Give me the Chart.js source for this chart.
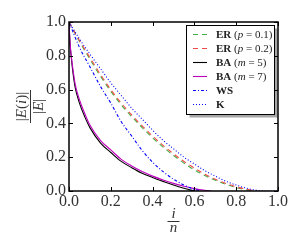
<!DOCTYPE html>
<html>
<head>
<meta charset="utf-8">
<script src="https://cdn.jsdelivr.net/npm/chart.js@4"></script>
<style>
  html, body { margin: 0; padding: 0; background: #fff; }
  #wrap { width: 301px; height: 251px; }
</style>
</head>
<body>
<div id="wrap"><canvas id="chart" width="301" height="251"></canvas></div>
<script>
// ======================
// DATA
// ======================
const erP01X = [0, 0.05, 0.1, 0.15, 0.2, 0.25, 0.3, 0.35, 0.4, 0.45, 0.5, 0.55, 0.6, 0.65, 0.7, 0.75, 0.8, 0.85, 0.88];
const erP01Y = [1, 0.885, 0.78, 0.68, 0.59, 0.51, 0.44, 0.375, 0.315, 0.26, 0.21, 0.165, 0.125, 0.092, 0.063, 0.04, 0.02, 0.006, 0];

const erP02X = [0, 0.05, 0.1, 0.15, 0.2, 0.25, 0.3, 0.35, 0.4, 0.45, 0.5, 0.55, 0.6, 0.65, 0.7, 0.75, 0.8, 0.85, 0.9];
const erP02Y = [1, 0.89, 0.79, 0.69, 0.6, 0.52, 0.45, 0.385, 0.325, 0.27, 0.22, 0.175, 0.135, 0.1, 0.07, 0.045, 0.025, 0.01, 0];

const baM5X = [0, 0.005, 0.01, 0.02, 0.03, 0.05, 0.075, 0.1, 0.15, 0.2, 0.25, 0.3, 0.35, 0.4, 0.45, 0.5, 0.55, 0.6];
const baM5Y = [1, 0.87, 0.8, 0.69, 0.61, 0.52, 0.44, 0.375, 0.285, 0.228, 0.175, 0.138, 0.105, 0.08, 0.057, 0.035, 0.016, 0];

const baM7X = [0, 0.005, 0.01, 0.02, 0.03, 0.05, 0.075, 0.1, 0.15, 0.2, 0.25, 0.3, 0.35, 0.4, 0.45, 0.5, 0.55, 0.6, 0.65, 0.68];
const baM7Y = [1, 0.88, 0.81, 0.71, 0.63, 0.54, 0.46, 0.39, 0.3, 0.243, 0.187, 0.148, 0.115, 0.088, 0.065, 0.045, 0.028, 0.014, 0.004, 0];

const wsX = [0, 0.05, 0.1, 0.15, 0.2, 0.25, 0.3, 0.35, 0.4, 0.45, 0.5, 0.55, 0.6, 0.63];
const wsY = [1, 0.85, 0.735, 0.62, 0.52, 0.41, 0.325, 0.24, 0.17, 0.115, 0.07, 0.035, 0.01, 0];

const kX = [0, 0.05, 0.1, 0.15, 0.2, 0.25, 0.3, 0.35, 0.4, 0.45, 0.5, 0.55, 0.6, 0.65, 0.7, 0.75, 0.8, 0.85, 0.9, 0.95, 1.0];
const kY = [1, 0.9, 0.81, 0.725, 0.64, 0.565, 0.49, 0.425, 0.36, 0.3, 0.25, 0.2, 0.16, 0.12, 0.088, 0.058, 0.035, 0.016, 0.004, 0, 0];

const tickValues = [0, 0.2, 0.4, 0.6, 0.8, 1.0];

// legend text pieces: [text, style]
const legendLabels = [
    [["ER", "b"], [" (", ""], ["p", "i"], [" = 0.1)", ""]],
    [["ER", "b"], [" (", ""], ["p", "i"], [" = 0.2)", ""]],
    [["BA", "b"], [" (", ""], ["m", "i"], [" = 5)", ""]],
    [["BA", "b"], [" (", ""], ["m", "i"], [" = 7)", ""]],
    [["WS", "b"]],
    [["K", "b"]]
];

const FONT = '"Liberation Serif", "DejaVu Serif", serif';

function pts(xs, ys) {
    return xs.map((x, i) => ({ x: x, y: ys[i] }));
}

function series(data, color, dash, idx) {
    return {
        data: data,
        borderColor: color,
        borderWidth: 1.1,
        borderDash: dash,
        pointRadius: 0,
        fill: false,
        cubicInterpolationMode: "monotone",
        order: 6 - idx
    };
}

// ======================
// PLUGINS: frame + inward ticks, axis fractions, legend
// ======================
const framePlugin = {
    id: "frame",
    afterDatasetsDraw(chart) {
        const ctx = chart.ctx;
        const a = chart.chartArea;
        const xs = chart.scales.x, ys = chart.scales.y;
        ctx.save();
        ctx.strokeStyle = "#000";
        ctx.lineWidth = 1;
        tickValues.forEach(v => {
            const px = Math.round(xs.getPixelForValue(v)) + 0.5;
            const py = Math.round(ys.getPixelForValue(v)) + 0.5;
            ctx.beginPath();
            ctx.moveTo(px, a.bottom); ctx.lineTo(px, a.bottom - 4);
            ctx.moveTo(px, a.top); ctx.lineTo(px, a.top + 4);
            ctx.moveTo(a.left, py); ctx.lineTo(a.left + 4, py);
            ctx.moveTo(a.right, py); ctx.lineTo(a.right - 4, py);
            ctx.stroke();
        });
        ctx.lineWidth = 1.5;
        ctx.strokeRect(a.left, a.top, a.right - a.left, a.bottom - a.top);
        ctx.restore();
    }
};

const titlesPlugin = {
    id: "titles",
    afterDraw(chart) {
        const ctx = chart.ctx;
        const a = chart.chartArea;
        ctx.save();
        ctx.fillStyle = "#333";
        ctx.strokeStyle = "#333";
        ctx.textBaseline = "alphabetic";

        // x title: i over n
        const cx = (a.left + a.right) / 2;
        ctx.textAlign = "center";
        ctx.font = "italic 15px " + FONT;
        ctx.fillText("i", cx, 218);
        ctx.fillText("n", cx, 232);
        ctx.lineWidth = 1;
        ctx.beginPath();
        ctx.moveTo(cx - 6, 221.5); ctx.lineTo(cx + 6, 221.5);
        ctx.stroke();

        // y title: |E(i)| over |E|, rotated
        ctx.translate(30.5, (a.top + a.bottom) / 2);
        ctx.rotate(-Math.PI / 2);
        drawPieces(ctx, [["|", ""], ["E", "i"], ["(", ""], ["i", "i"], [")|", ""]], 0, -5, 15, true);
        drawPieces(ctx, [["|", ""], ["E", "i"], ["|", ""]], 0, 12, 15, true);
        ctx.beginPath();
        ctx.moveTo(-16.5, 0); ctx.lineTo(16.5, 0);
        ctx.stroke();
        ctx.restore();
    }
};

function pieceFont(style, size) {
    if (style === "i") return "italic " + size + "px " + FONT;
    if (style === "b") return "bold " + size + "px " + FONT;
    return size + "px " + FONT;
}

function drawPieces(ctx, pieces, x, y, size, centered) {
    ctx.textAlign = "left";
    let total = 0;
    pieces.forEach(p => { ctx.font = pieceFont(p[1], size); total += ctx.measureText(p[0]).width; });
    let cur = centered ? x - total / 2 : x;
    pieces.forEach(p => {
        ctx.font = pieceFont(p[1], size);
        ctx.fillText(p[0], cur, y);
        cur += ctx.measureText(p[0]).width;
    });
}

const legendPlugin = {
    id: "boxLegend",
    afterDraw(chart) {
        const ctx = chart.ctx;
        const bx = 186.5, by = 25.5, bw = 88, bh = 89;
        ctx.save();
        ctx.fillStyle = "rgba(0,0,0,0.35)";
        ctx.fillRect(bx + 3, by + 3, bw, bh);
        ctx.fillStyle = "#fff";
        ctx.fillRect(bx, by, bw, bh);
        ctx.strokeStyle = "#000";
        ctx.lineWidth = 1;
        ctx.strokeRect(bx, by, bw, bh);

        chart.data.datasets.forEach((ds, i) => {
            const y = 34 + i * 14;
            ctx.strokeStyle = ds.borderColor;
            ctx.lineWidth = ds.borderWidth;
            ctx.setLineDash(ds.borderDash || []);
            ctx.beginPath();
            ctx.moveTo(193, y + 0.5); ctx.lineTo(207, y + 0.5);
            ctx.stroke();
            ctx.setLineDash([]);
            ctx.fillStyle = "#222";
            drawPieces(ctx, legendLabels[i], 216, y + 4, 11, false);
        });
        ctx.restore();
    }
};

// ======================
// CHART SETUP
// ======================
const chart = new Chart(document.getElementById("chart"), {
    type: "line",
    data: {
        datasets: [
            series(pts(erP01X, erP01Y), "#45b045", [5, 4], 0),
            series(pts(erP02X, erP02Y), "#f54848", [5, 4], 1),
            series(pts(baM5X, baM5Y), "#000000", [], 2),
            series(pts(baM7X, baM7Y), "#bf00bf", [], 3),
            series(pts(wsX, wsY), "#0000ff", [3, 2, 1, 2], 4),
            series(pts(kX, kY), "#0000ff", [1, 2], 5)
        ]
    },
    options: {
        responsive: false,
        animation: false,
        layout: { padding: { top: 22, right: 23, left: 0, bottom: 0 } },
        plugins: { legend: { display: false }, tooltip: { enabled: false } },
        scales: {
            x: {
                type: "linear",
                min: 0, max: 1,
                grid: { display: false, drawTicks: false },
                border: { display: false },
                afterFit: s => { s.height = 60; },
                afterBuildTicks: s => { s.ticks = tickValues.map(v => ({ value: v })); },
                ticks: {
                    callback: v => v.toFixed(1),
                    font: { family: FONT, size: 16 },
                    color: "#333",
                    padding: 1,
                    maxRotation: 0
                }
            },
            y: {
                min: 0, max: 1,
                grid: { display: false, drawTicks: false },
                border: { display: false },
                afterFit: s => { s.width = 69; },
                afterBuildTicks: s => { s.ticks = tickValues.map(v => ({ value: v })); },
                ticks: {
                    callback: v => v.toFixed(1),
                    font: { family: FONT, size: 16 },
                    color: "#333",
                    padding: 3
                }
            }
        }
    },
    plugins: [framePlugin, titlesPlugin, legendPlugin]
});
</script>
</body>
</html>
